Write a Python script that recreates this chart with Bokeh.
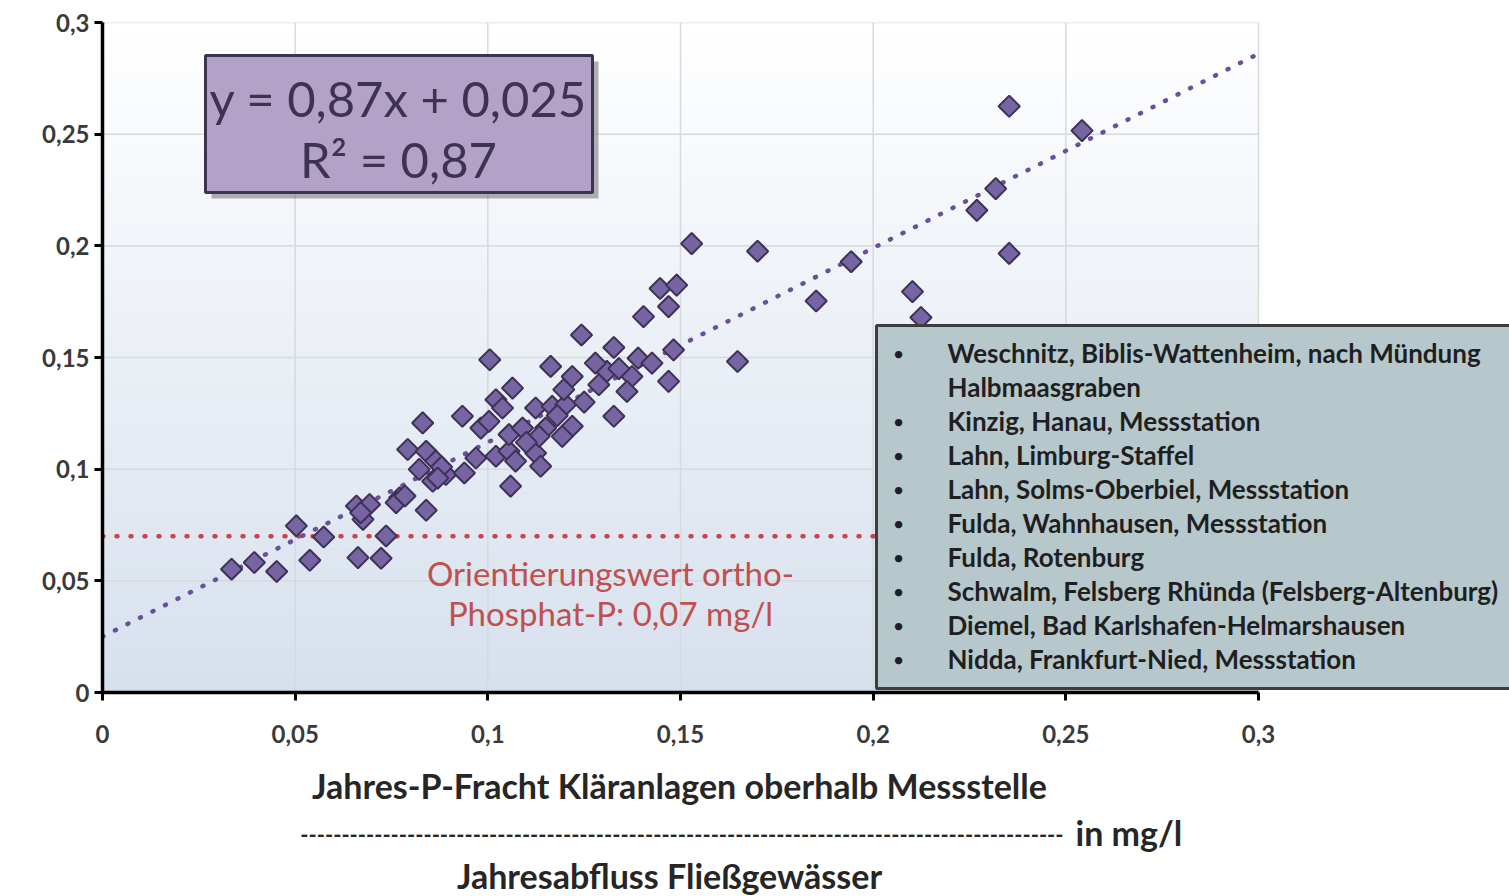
import numpy as np
from bokeh.plotting import figure
from bokeh.layouts import column
from bokeh.models import Range1d, FixedTicker, CustomJSTickFormatter, Label
from bokeh.core.properties import value
from bokeh.embed import file_html
from bokeh.resources import INLINE

# ---------------- data ----------------
x_vals = [0.0335, 0.0394, 0.0452, 0.0503, 0.0538, 0.0574, 0.0663, 0.0723, 0.0736, 0.0676,
          0.0659, 0.0693, 0.0670, 0.0771, 0.0762, 0.0785, 0.0840, 0.0792, 0.0840, 0.0865,
          0.0822, 0.0857, 0.0891, 0.0939, 0.0969, 0.1021, 0.1055, 0.1072, 0.1124, 0.1137,
          0.1059, 0.0831, 0.0934, 0.0982, 0.1003, 0.1055, 0.1090, 0.1150, 0.1219, 0.1193,
          0.1133, 0.1021, 0.1038, 0.1124, 0.1167, 0.1202, 0.1327, 0.1064, 0.1197, 0.1288,
          0.1374, 0.1469, 0.1361, 0.1219, 0.1309, 0.1005, 0.1163, 0.1279, 0.1390, 0.1426,
          0.1243, 0.1327, 0.1482, 0.1404, 0.1529, 0.1700, 0.1943, 0.1852, 0.2102, 0.2124,
          0.1648, 0.1447, 0.1490, 0.1469, 0.2353, 0.2542, 0.2318, 0.2269, 0.2353, 0.0880,
          0.0870, 0.1100, 0.1180, 0.1250, 0.1340]
y_vals = [0.0552, 0.0582, 0.0542, 0.0746, 0.0592, 0.0696, 0.0604, 0.0601, 0.0701, 0.0775,
          0.0835, 0.0842, 0.0805, 0.0872, 0.0850, 0.0880, 0.0816, 0.1088, 0.1080, 0.1036,
          0.0999, 0.0946, 0.0976, 0.0983, 0.1050, 0.1058, 0.1080, 0.1036, 0.1072, 0.1013,
          0.0924, 0.1207, 0.1237, 0.1184, 0.1214, 0.1155, 0.1184, 0.1184, 0.1192, 0.1147,
          0.1147, 0.1311, 0.1274, 0.1274, 0.1281, 0.1289, 0.1237, 0.1363, 0.1356, 0.1378,
          0.1415, 0.1393, 0.1348, 0.1415, 0.1438, 0.1490, 0.1460, 0.1475, 0.1497, 0.1475,
          0.1601, 0.1545, 0.1534, 0.1683, 0.2010, 0.1976, 0.1929, 0.1753, 0.1795, 0.1679,
          0.1482, 0.1809, 0.1824, 0.1728, 0.2625, 0.2516, 0.2256, 0.2159, 0.1966, 0.1010,
          0.0960, 0.1120, 0.1240, 0.1300, 0.1450]

SLOPE = 0.87
INTERCEPT = 0.025
R2 = 0.87
THRESHOLD = 0.07
AXIS_MAX = 0.3
x_ticks = [0, 0.05, 0.1, 0.15, 0.2, 0.25, 0.3]
y_ticks = [0, 0.05, 0.1, 0.15, 0.2, 0.25, 0.3]

eq_lines = ["y = 0,87x + 0,025", "R² = 0,87"]
threshold_lines = ["Orientierungswert ortho-", "Phosphat-P: 0,07 mg/l"]
legend_lines = [
    ("Weschnitz, Biblis-Wattenheim, nach Mündung", True),
    ("Halbmaasgraben", False),
    ("Kinzig, Hanau, Messstation", True),
    ("Lahn, Limburg-Staffel", True),
    ("Lahn, Solms-Oberbiel, Messstation", True),
    ("Fulda, Wahnhausen, Messstation", True),
    ("Fulda, Rotenburg", True),
    ("Schwalm, Felsberg Rhünda (Felsberg-Altenburg)", True),
    ("Diemel, Bad Karlshafen-Helmarshausen", True),
    ("Nidda, Frankfurt-Nied, Messstation", True),
]
xlabel_top = "Jahres-P-Fracht Kläranlagen oberhalb Messstelle"
xlabel_rule = "-" * 93
xlabel_unit = "in mg/l"
xlabel_bottom = "Jahresabfluss Fließgewässer"

# ---------------- layout (window pixels) ----------------
W = 1509
H_MAIN = 762
H_CAP = 134
FRAME_L, FRAME_T, FRAME_B = 102, 22, 692      # window px
X_RIGHT_PX = 1258                             # window px of x = 0.3
XS = (X_RIGHT_PX - FRAME_L) / AXIS_MAX
YS = (FRAME_B - FRAME_T) / AXIS_MAX
x_end = (W - FRAME_L) / XS


def dx(px):
    return (px - FRAME_L) / XS


def dy(py):
    return (FRAME_B - py) / YS


FONT = "Lato"
x_range = Range1d(0, x_end)

p = figure(width=W, height=H_MAIN, output_backend="svg", toolbar_location=None,
           x_range=x_range, y_range=Range1d(0, AXIS_MAX),
           min_border_left=FRAME_L, min_border_top=FRAME_T,
           min_border_bottom=H_MAIN - FRAME_B, min_border_right=0)
p.outline_line_color = None
p.background_fill_color = "white"
p.border_fill_color = "white"
p.grid.visible = False

# background gradient for plot area
n_bands = 60
edges = np.linspace(0, AXIS_MAX, n_bands + 1)
bottom_rgb = np.array([214, 224, 237])
top_rgb = np.array([255, 255, 255])
cols = []
for i in range(n_bands):
    t = ((edges[i] + edges[i + 1]) / 2) / AXIS_MAX
    c = bottom_rgb + (top_rgb - bottom_rgb) * t
    cols.append("#%02x%02x%02x" % tuple(int(round(v)) for v in c))
p.quad(left=0, right=AXIS_MAX, bottom=edges[:-1], top=edges[1:],
       fill_color=cols, line_color=cols, line_width=1, level="image")

# grid lines
p.segment(x0=x_ticks, y0=0, x1=x_ticks, y1=AXIS_MAX, line_color="#d6d9de", line_width=1.5)
p.segment(x0=0, y0=y_ticks, x1=AXIS_MAX, y1=y_ticks, line_color="#d6d9de", line_width=1.5)

# threshold line
p.line([0, AXIS_MAX], [THRESHOLD, THRESHOLD], line_color="#c8414b", line_width=4.5,
       line_dash="1 13", line_cap="round")

# regression trend line
fx = np.array([0, AXIS_MAX])
p.line(fx, SLOPE * fx + INTERCEPT, line_color="#6a4f9c", line_width=4.5,
       line_dash="1 13", line_cap="round")

# scatter points (diamonds)
p.scatter(x_vals, y_vals, marker="square", angle=np.pi / 4, size=15,
          fill_color="#7764a2", line_color="#3e3158", line_width=2)

# equation box
p.quad(left=dx(211), right=dx(598), top=dy(61), bottom=dy(198),
       fill_color="#6f6f6f", fill_alpha=0.55, line_color=None)
p.quad(left=dx(205), right=dx(592), top=dy(55), bottom=dy(192),
       fill_color="#b3a2c7", line_color="#3f3151", line_width=3)
for i, t in enumerate(eq_lines):
    p.add_layout(Label(x=dx(398), y=dy(97 + 61 * i), text=t, text_align="center",
                       text_baseline="middle", text_font=FONT, text_font_size="49px",
                       text_color="#3f3151"))

# threshold label
for i, t in enumerate(threshold_lines):
    p.add_layout(Label(x=dx(610), y=dy(572 + 40 * i), text=t, text_align="center",
                       text_baseline="middle", text_font=FONT, text_font_size="33px",
                       text_color="#c0504d"))

# legend box
p.quad(left=dx(876), right=dx(1530), top=dy(325), bottom=dy(688),
       fill_color="#b7c8cc", line_color="#3d3d3d", line_width=3)
for i, (t, bullet) in enumerate(legend_lines):
    yy = dy(352 + 34 * i)
    if bullet:
        p.add_layout(Label(x=dx(898), y=yy, text="•", text_align="center",
                           text_baseline="middle", text_font=FONT, text_font_size="20px",
                           text_color="#1f1f1f"))
    p.add_layout(Label(x=dx(947), y=yy, text=t, text_align="left",
                       text_baseline="middle", text_font=FONT, text_font_size="26px",
                       text_font_style="bold", text_color="#1f1f1f"))

# axes
fmt = CustomJSTickFormatter(code=r"return tick.toFixed(2).replace(/0+$/, '').replace(/\.$/, '').replace('.', ',');")
for ax, ticks in ((p.xaxis, x_ticks), (p.yaxis, y_ticks)):
    ax.ticker = FixedTicker(ticks=ticks)
    ax.formatter = fmt
    ax.bounds = (0, AXIS_MAX)
    ax.axis_line_color = "black"
    ax.axis_line_width = 3.5
    ax.major_tick_line_color = "black"
    ax.major_tick_line_width = 3
    ax.major_tick_out = 8
    ax.major_tick_in = 0
    ax.minor_tick_line_color = None
    ax.major_label_text_font = FONT
    ax.major_label_text_font_size = "24px"
    ax.major_label_text_font_style = "bold"
    ax.major_label_text_color = "#3a3a3a"
p.xaxis.major_label_standoff = 24
p.yaxis.major_label_standoff = 5

# ---------------- caption strip below the chart ----------------
cap = figure(width=W, height=H_CAP, output_backend="svg", toolbar_location=None,
             x_range=x_range, y_range=Range1d(H_MAIN + H_CAP, H_MAIN),
             x_axis_location=None, y_axis_location=None,
             min_border_left=FRAME_L, min_border_right=0, min_border_top=0, min_border_bottom=0)
cap.outline_line_color = None
cap.grid.visible = False
cap.background_fill_color = "white"
cap.border_fill_color = "white"
cap.text(x=[dx(679), dx(1075), dx(669)], y=[785, 832, 875],
         text=[xlabel_top, xlabel_unit, xlabel_bottom],
         text_align=["center", "left", "center"], text_baseline="middle",
         text_font=value(FONT), text_font_size=value("34px"), text_font_style="bold",
         text_color="#262626")
cap.text(x=[dx(1063)], y=[834], text=[xlabel_rule], text_align="right",
         text_baseline="middle", text_font=value(FONT), text_font_size=value("22px"),
         text_font_style="bold", text_color="#262626")

layout = column(p, cap, spacing=0)
open("out.html", "w").write(file_html(layout, INLINE))
